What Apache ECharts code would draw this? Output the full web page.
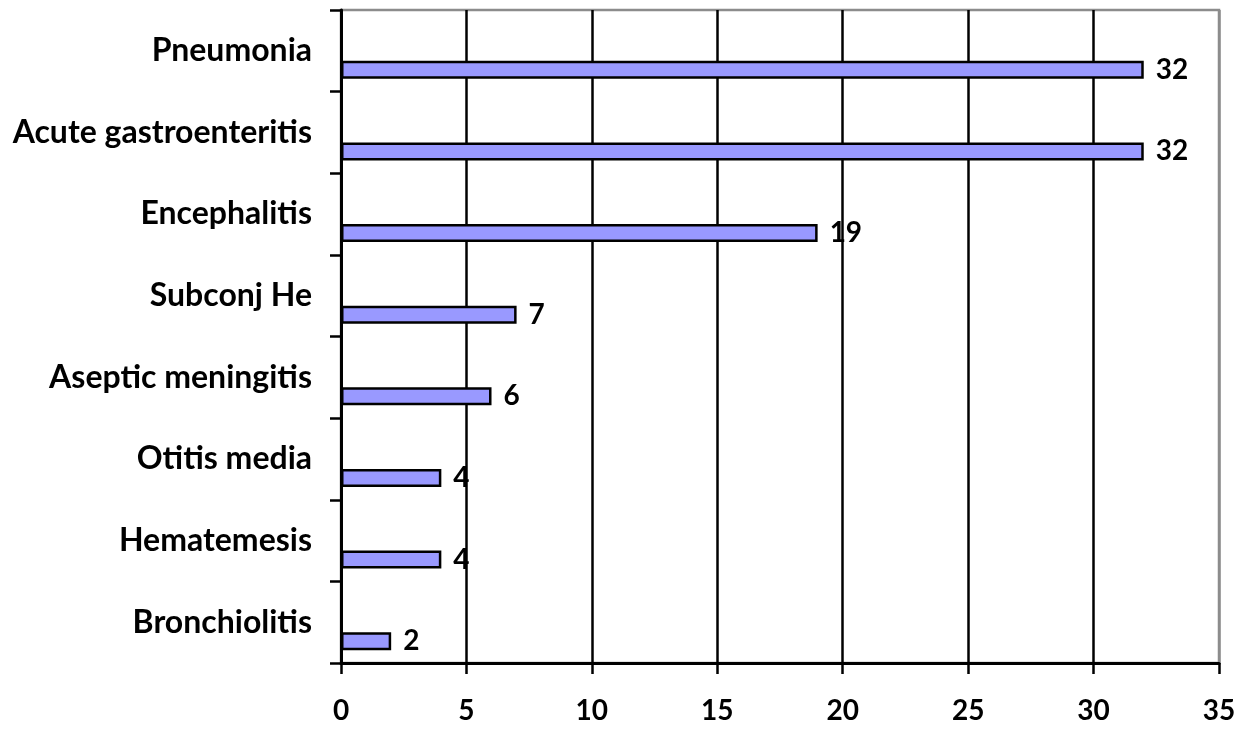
<!DOCTYPE html>
<html>
<head>
<meta charset="utf-8">
<script src="https://cdn.jsdelivr.net/npm/echarts@6/dist/echarts.min.js"></script>
<style>
  html, body { margin: 0; padding: 0; background: #fff; }
  #chart { width: 1249px; height: 729px; }
</style>
</head>
<body>
<div id="chart"></div>
<script>
// Diagnoses, top to bottom
const categories = [
  'Pneumonia',
  'Acute gastroenteritis',
  'Encephalitis',
  'Subconj He',
  'Aseptic meningitis',
  'Otitis media',
  'Hematemesis',
  'Bronchiolitis'
];
// Number of cases per diagnosis
const cases = [32, 32, 19, 7, 6, 4, 4, 2];
// Value axis scale
const xMin = 0;
const xMax = 35;
const xStep = 5;

const FONT = 'Lato, "Open Sans", sans-serif';
const chart = echarts.init(document.getElementById('chart'), null, { renderer: 'canvas' });

chart.setOption({
  animation: false,
  backgroundColor: '#ffffff',
  grid: {
    left: 341, right: 30, top: 10, bottom: 66,
    show: true, borderColor: '#8c8c8c', borderWidth: 2.5, backgroundColor: 'transparent'
  },
  xAxis: {
    type: 'value',
    min: xMin, max: xMax, interval: xStep,
    axisLine: { show: true, lineStyle: { color: '#000', width: 3 } },
    axisTick: { show: true, length: 11, lineStyle: { color: '#000', width: 2.5 } },
    axisLabel: { margin: 34, color: '#000', fontFamily: FONT, fontWeight: 'bold', fontSize: 28 },
    splitLine: {
      show: true,
      lineStyle: {
        width: 2.5,
        // last gridline sits on the grey plot border
        color: ['#000', '#000', '#000', '#000', '#000', '#000', '#000', '#8c8c8c']
      }
    }
  },
  yAxis: {
    type: 'category',
    data: categories,
    inverse: true,
    axisLine: { show: true, lineStyle: { color: '#000', width: 3 } },
    axisTick: { show: true, length: 11, lineStyle: { color: '#000', width: 2.5 } },
    axisLabel: { margin: 29, color: '#000', fontFamily: FONT, fontWeight: 'bold', fontSize: 32 },
    splitLine: { show: false }
  },
  series: [
    {
      // empty companion series: pushes the visible bar to the lower half of each row
      name: 'spacer',
      type: 'bar',
      data: [],
      barWidth: 18,
      barGap: '111%',
      silent: true
    },
    {
      name: 'Cases',
      type: 'bar',
      data: cases,
      barWidth: 18,
      barGap: '111%',
      itemStyle: { color: '#9999ff', borderColor: '#000', borderWidth: 2.5 },
      label: {
        show: true,
        position: 'right',
        distance: 12,
        color: '#000',
        fontFamily: FONT,
        fontWeight: 'bold',
        fontSize: 28
      }
    }
  ]
});
</script>
</body>
</html>
